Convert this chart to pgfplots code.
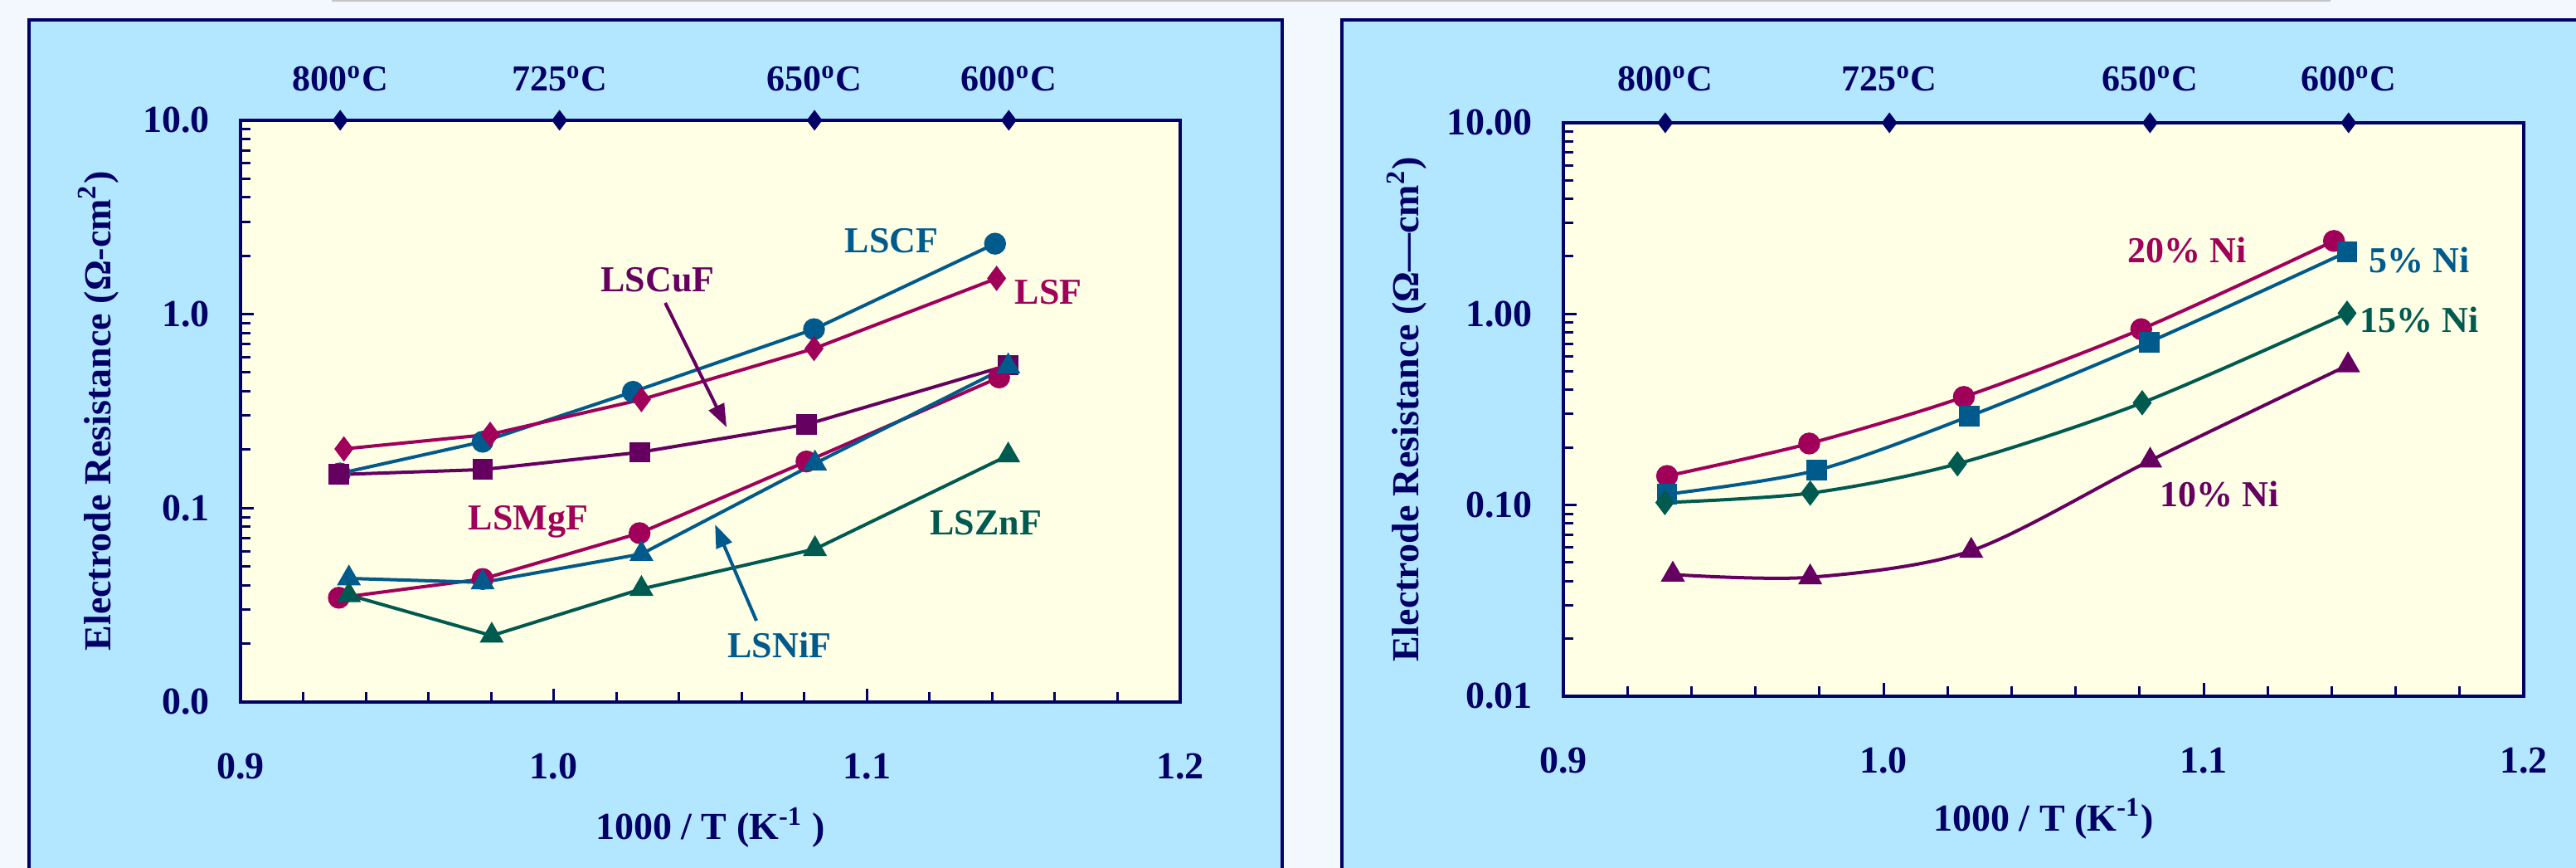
\documentclass[border=0pt]{standalone}
\usepackage{fontspec}
\setmainfont{Liberation Serif}
\usepackage{pgfplots}
\pgfplotsset{compat=1.18}
\usetikzlibrary{arrows.meta}
\definecolor{pale}{HTML}{F2F8FE}
\definecolor{panelblue}{HTML}{B3E6FF}
\definecolor{navy}{HTML}{000066}
\definecolor{plotyellow}{HTML}{FFFFE6}
\definecolor{sblue}{HTML}{005A8C}
\definecolor{scrim}{HTML}{A0005A}
\definecolor{spurp}{HTML}{660060}
\definecolor{steal}{HTML}{005A50}
\newcommand{\tfont}{\fontsize{11.5}{13}\selectfont\bfseries}
\newcommand{\sfont}{\fontsize{11}{13}\selectfont\bfseries}
\begin{document}
\begin{tikzpicture}
\useasboundingbox (0pt,0pt) rectangle (776.5pt,261.5pt);
\clip (0pt,0pt) rectangle (776.5pt,261.5pt);
\fill[pale] (0pt,0pt) rectangle (776.5pt,261.5pt);
\fill[gray!45] (100pt,261.1pt) rectangle (702.5pt,261.5pt);
\fill[panelblue] (8.75pt,-5pt) rectangle (386.5pt,255.5pt);
\draw[navy,line width=1pt] (8.75pt,-5pt) -- (8.75pt,255.5pt) -- (386.5pt,255.5pt) -- (386.5pt,-5pt);
\fill[panelblue] (404.5pt,-5pt) rectangle (790pt,255.5pt);
\draw[navy,line width=1pt] (404.5pt,-5pt) -- (404.5pt,255.5pt) -- (790pt,255.5pt);

% ---------------- left panel ----------------
\begin{axis}[
  scale only axis, ymode=log,
  xmin=0.9, xmax=1.2, ymin=0.01, ymax=10,
  axis background/.style={fill=plotyellow},
  axis line style={navy, line width=1pt},
  tick style={navy, line width=0.75pt},
  tick align=inside, tick pos=left,
  major tick length=4pt, minor tick length=3pt,
  xtick={0.9,1.0,1.1,1.2}, xticklabels={0.9,1.0,1.1,1.2},
  minor x tick num=4,
  ytick={0.01,0.1,1,10},
  minor ytick={0.02,0.03,0.04,0.05,0.06,0.07,0.08,0.09,0.2,0.3,0.4,0.5,0.6,0.7,0.8,0.9,2,3,4,5,6,7,8,9},
  xticklabel style={font=\tfont, text=navy, yshift=-12pt},
  yticklabel style={font=\tfont, text=navy, xshift=-5.8pt},
  clip=false,
  at={(72.5pt,50pt)}, anchor=south west,
  width=283.25pt, height=175.25pt,
  yticklabels={0.0,0.1,1.0,10.0},
  xlabel={1000 / T (K\textsuperscript{-1} )},
  xlabel style={font=\tfont, text=navy, at={(axis description cs:0.5,-0.2154)}, anchor=center},
  ylabel={Electrode Resistance (Ω-cm\textsuperscript{2})},
  ylabel style={font=\tfont, text=navy, at={(axis description cs:-0.151,0.5)}, anchor=center},
]
\addplot[only marks, mark=diamond*, navy, mark size=2.8pt] coordinates {(0.93183,10) (1.00185,10) (1.08325,10) (1.14528,10)};
% LSCF
\addplot[sblue, line width=1pt, mark=*, mark size=2.8pt, mark options={solid}] coordinates {(0.9317,0.151) (0.9773,0.220) (1.0253,0.398) (1.0831,0.837) (1.1409,2.31)};
% LSF
\addplot[scrim, line width=1pt, mark=diamond*, mark size=3pt, mark options={solid}] coordinates {(0.9330,0.202) (0.9797,0.240) (1.0280,0.363) (1.0831,0.665) (1.1414,1.53)};
% LSCuF
\addplot[spurp, line width=1pt, mark=square*, mark size=2.6pt, mark options={solid}] coordinates {(0.9314,0.149) (0.9773,0.158) (1.0274,0.194) (1.0807,0.270) (1.1451,0.546)};
% LSMgF
\addplot[scrim, line width=1pt, mark=*, mark size=2.8pt, mark options={solid}] coordinates {(0.9314,0.0345) (0.9773,0.0431) (1.0274,0.0743) (1.0807,0.174) (1.1422,0.472)};
% LSNiF
\addplot[sblue, line width=1pt, mark=triangle*, mark size=3.2pt, mark options={solid}] coordinates {(0.9346,0.0434) (0.9773,0.0414) (1.0280,0.0580) (1.0834,0.170) (1.1451,0.539)};
% LSZnF
\addplot[steal, line width=1pt, mark=triangle*, mark size=3.2pt, mark options={solid}] coordinates {(0.9346,0.0356) (0.9802,0.0220) (1.0280,0.0383) (1.0834,0.0615) (1.1451,0.187)};
\node[font=\sfont, text=navy, anchor=base, yshift=8.75pt] at (axis cs:0.93183,10) {800\textsuperscript{o}C};
\node[font=\sfont, text=navy, anchor=base, yshift=8.75pt] at (axis cs:1.00185,10) {725\textsuperscript{o}C};
\node[font=\sfont, text=navy, anchor=base, yshift=8.75pt] at (axis cs:1.08325,10) {650\textsuperscript{o}C};
\node[font=\sfont, text=navy, anchor=base, yshift=8.75pt] at (axis cs:1.14528,10) {600\textsuperscript{o}C};
\node[font=\sfont, text=sblue] at (axis cs:1.1079,2.396) {LSCF};
\node[font=\sfont, text=scrim] at (axis cs:1.1579,1.300) {LSF};
\node[font=\sfont, text=spurp] at (axis cs:1.0332,1.508) {LSCuF};
\node[font=\sfont, text=scrim] at (axis cs:0.9919,0.0849) {LSMgF};
\node[font=\sfont, text=steal] at (axis cs:1.1380,0.0840) {LSZnF};
\node[font=\sfont, text=sblue] at (axis cs:1.0721,0.01973) {LSNiF};
\draw[spurp, line width=1pt, -{Triangle[length=7pt,width=5pt]}] (axis cs:1.0356,1.144) -- (axis cs:1.0552,0.261);
\draw[sblue, line width=1pt, -{Triangle[length=7pt,width=5pt]}] (axis cs:1.0647,0.02626) -- (axis cs:1.0515,0.0824);
\end{axis}

% ---------------- right panel ----------------
\begin{axis}[
  scale only axis, ymode=log,
  xmin=0.9, xmax=1.2, ymin=0.01, ymax=10,
  axis background/.style={fill=plotyellow},
  axis line style={navy, line width=1pt},
  tick style={navy, line width=0.75pt},
  tick align=inside, tick pos=left,
  major tick length=4pt, minor tick length=3pt,
  xtick={0.9,1.0,1.1,1.2}, xticklabels={0.9,1.0,1.1,1.2},
  minor x tick num=4,
  ytick={0.01,0.1,1,10},
  minor ytick={0.02,0.03,0.04,0.05,0.06,0.07,0.08,0.09,0.2,0.3,0.4,0.5,0.6,0.7,0.8,0.9,2,3,4,5,6,7,8,9},
  xticklabel style={font=\tfont, text=navy, yshift=-12pt},
  yticklabel style={font=\tfont, text=navy, xshift=-5.8pt},
  clip=false,
  at={(471.25pt,51.75pt)}, anchor=south west,
  width=289.5pt, height=172.75pt,
  yticklabels={0.01,0.10,1.00,10.00},
  xlabel={1000 / T (K\textsuperscript{-1})},
  xlabel style={font=\tfont, text=navy, at={(axis description cs:0.5,-0.214)}, anchor=center},
  ylabel={Electrode Resistance (Ω—cm\textsuperscript{2})},
  ylabel style={font=\tfont, text=navy, at={(axis description cs:-0.163,0.5)}, anchor=center},
]
\addplot[only marks, mark=diamond*, navy, mark size=2.8pt] coordinates {(0.93183,10) (1.00185,10) (1.08325,10) (1.14528,10)};
% 20% Ni
\addplot[scrim, line width=1pt, smooth, tension=0.5, mark=*, mark size=2.8pt, mark options={solid}] coordinates {(0.9324,0.142) (0.9768,0.210) (1.0251,0.368) (1.0805,0.832) (1.1407,2.41)};
% 5% Ni
\addplot[sblue, line width=1pt, smooth, tension=0.5, mark=square*, mark size=2.6pt, mark options={solid}] coordinates {(0.9324,0.114) (0.9791,0.152) (1.0269,0.292) (1.0830,0.713) (1.1448,2.11)};
% 15% Ni
\addplot[steal, line width=1pt, smooth, tension=0.5, mark=diamond*, mark size=3pt, mark options={solid}] coordinates {(0.9317,0.1031) (0.9771,0.1155) (1.0231,0.1644) (1.0808,0.343) (1.1448,1.009)};
% 10% Ni
\addplot[spurp, line width=1pt, smooth, tension=0.5, mark=triangle*, mark size=3.2pt, mark options={solid}] coordinates {(0.9342,0.0433) (0.9771,0.0419) (1.0274,0.0577) (1.0833,0.171) (1.1451,0.539)};
\node[font=\sfont, text=navy, anchor=base, yshift=9.5pt] at (axis cs:0.93183,10) {800\textsuperscript{o}C};
\node[font=\sfont, text=navy, anchor=base, yshift=9.5pt] at (axis cs:1.00185,10) {725\textsuperscript{o}C};
\node[font=\sfont, text=navy, anchor=base, yshift=9.5pt] at (axis cs:1.08325,10) {650\textsuperscript{o}C};
\node[font=\sfont, text=navy, anchor=base, yshift=9.5pt] at (axis cs:1.14528,10) {600\textsuperscript{o}C};
\node[font=\sfont, text=scrim] at (axis cs:1.0948,2.145) {20\% Ni};
\node[font=\sfont, text=sblue] at (axis cs:1.1674,1.921) {5\% Ni};
\node[font=\sfont, text=steal] at (axis cs:1.1674,0.926) {15\% Ni};
\node[font=\sfont, text=spurp] at (axis cs:1.1049,0.1135) {10\% Ni};
\end{axis}
\end{tikzpicture}
\end{document}
